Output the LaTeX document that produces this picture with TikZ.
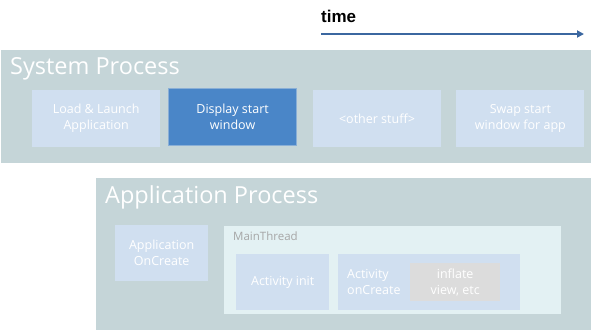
\documentclass[tikz,border=0pt]{standalone}
\usepackage{fontspec}
\setmainfont{Open Sans}
\newfontfamily\timefont{Liberation Sans}
\usetikzlibrary{arrows.meta,positioning}
\definecolor{spPanel} {HTML}{C5D5D8}
\definecolor{spBox}   {HTML}{D0DFF0}
\definecolor{spHot}   {HTML}{4A86C8}
\definecolor{spHotRim}{HTML}{8AAFD6}
\definecolor{spThread}{HTML}{E3F1F3}
\definecolor{spGrey}  {HTML}{DCDCDC}
\definecolor{spLabel} {HTML}{A6A6A6}
\definecolor{spArrow} {HTML}{3B67A0}

\begin{document}
\begin{tikzpicture}[x=1pt,y=-1pt,
    stage/.style={fill=spBox,text=white,align=center,inner sep=2pt,
      minimum width=128pt,minimum height=57pt,
      font=\fontsize{12.5}{16}\selectfont},
    title/.style={anchor=north west,inner sep=0,text=white,
      font=\fontsize{23.5}{26}\selectfont}]
  \useasboundingbox (0,0) rectangle (592,330);

  % time axis
  \node[anchor=north west,inner sep=0] (time) at (321,10)
    {\timefont\fontsize{17}{19}\selectfont\bfseries time};
  \coordinate (t0) at (321,34);
  \coordinate (t1) at (584,34);
  \draw[spArrow,line width=2.5pt,-{Triangle[length=7pt,width=7pt]}] (t0) -- (t1);

  % system process
  \fill[spPanel] (1,50) rectangle (591,163);
  \node[title] (sys) at (10,57) {System Process};
  \node[stage,anchor=north west] (load) at (32,90) {Load \& Launch\\Application};
  \node[stage,fill=spHot,draw=spHotRim,right=8pt of load,yshift=2pt] (disp)
    {Display start\\window};
  \node[stage,right=16pt of disp,yshift=-2pt] (other) {<other stuff>};
  \node[stage,right=15pt of other] (swap) {Swap start\\window for app};

  % application process
  \fill[spPanel] (96,178) rectangle (591,330);
  \node[title] (app) at (105,185) {Application Process};
  \node[stage,anchor=north west,minimum width=93pt,minimum height=56pt] (appcreate)
    at (115,225) {Application\\OnCreate};

  \fill[spThread] (224,226) rectangle (561,314);
  \node[anchor=north west,inner sep=0,text=spLabel,
    font=\fontsize{11.5}{14}\selectfont] (main) at (233,232) {MainThread};
  \node[stage,anchor=north west,minimum width=93pt,minimum height=56pt] (init)
    at (236,254) {Activity init};
  \node[stage,anchor=north west,minimum width=182pt,minimum height=56pt] (actcreate)
    at (338,254) {};
  \node[anchor=west,inner sep=0,text=white,align=left,
    font=\fontsize{12.5}{16}\selectfont] (actlabel) at ([xshift=9pt]actcreate.west)
    {Activity\\onCreate};
  \node[stage,fill=spGrey,anchor=north west,minimum width=90pt,minimum height=38pt]
    (inflate) at (410,263) {inflate\\view, etc};
\end{tikzpicture}
\end{document}
